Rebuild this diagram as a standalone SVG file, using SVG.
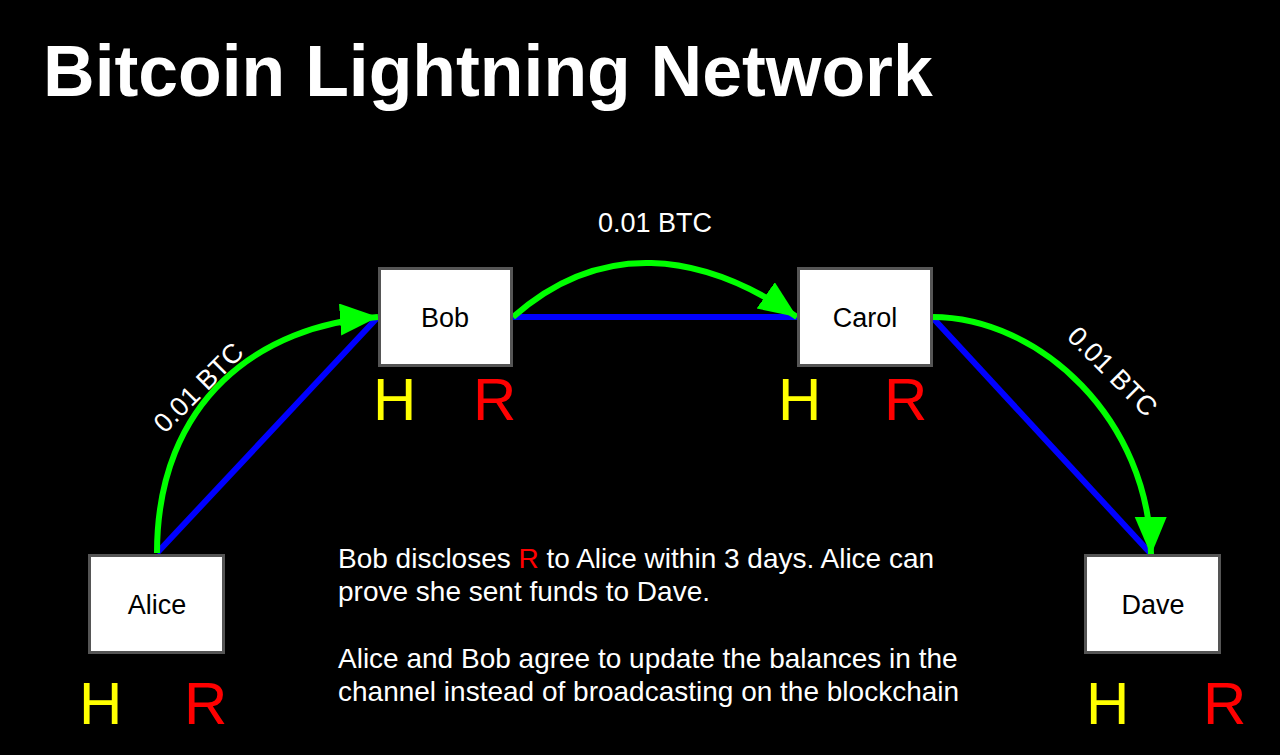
<svg xmlns="http://www.w3.org/2000/svg" width="1280" height="755" viewBox="0 0 1280 755">
<style>
.box{fill:#ffffff;stroke:#555555;stroke-width:3}
.lbl{font-family:"Liberation Sans",Arial,sans-serif;font-size:27px;fill:#000000;text-anchor:middle}
.h{font-family:"Liberation Sans",Arial,sans-serif;font-size:60px;fill:#ffff00}
.r{font-family:"Liberation Sans",Arial,sans-serif;font-size:60px;fill:#ff0000}
.chan{fill:none;stroke:#0000ff;stroke-width:6}
.pay{fill:none;stroke:#00ff00;stroke-width:6}
.amt{font-family:"Liberation Sans",Arial,sans-serif;font-size:27px;fill:#ffffff;text-anchor:middle}
.body{font-family:"Liberation Sans",Arial,sans-serif;font-size:28px;fill:#ffffff}
</style>
<defs>
<marker id="ah" markerUnits="userSpaceOnUse" markerWidth="42" markerHeight="34" refX="38" refY="16" orient="auto">
<path d="M0,0 L38,16 L0,32 Z" fill="#00ff00"/>
</marker>
</defs>
<rect width="1280" height="755" fill="#000000"/>
<text x="43" y="96" font-family="Liberation Sans,Arial,sans-serif" font-size="71.5" font-weight="bold" fill="#ffffff">Bitcoin Lightning Network</text>
<g id="connectors">
<line class="chan" x1="157" y1="553" x2="378" y2="317"/>
<line class="chan" x1="513" y1="317" x2="797" y2="317"/>
<line class="chan" x1="932" y1="317" x2="1152" y2="555"/>
<path class="pay" d="M157,553 C157,400 260,325 378,317" marker-end="url(#ah)"/>
<path class="pay" d="M513,317 C600,240 700,250 797,317" marker-end="url(#ah)"/>
<path class="pay" d="M932,317 C1040,317 1150,420 1151,555" marker-end="url(#ah)"/>
<text class="amt" x="655" y="232">0.01 BTC</text>
<text class="amt" transform="translate(205,394) rotate(-45)">0.01 BTC</text>
<text class="amt" transform="translate(1106,378) rotate(45)">0.01 BTC</text>
</g>
<g id="alice">
<rect class="box" x="89.5" y="555.5" width="134" height="97"/>
<text class="lbl" x="157" y="614">Alice</text>
<text class="h" x="79" y="724">H</text>
<text class="r" x="184" y="724">R</text>
</g>
<g id="bob">
<rect class="box" x="379.5" y="268.5" width="132" height="97"/>
<text class="lbl" x="445" y="327">Bob</text>
<text class="h" x="373" y="420">H</text>
<text class="r" x="473" y="420">R</text>
</g>
<g id="carol">
<rect class="box" x="798.5" y="268.5" width="133" height="97"/>
<text class="lbl" x="865" y="327">Carol</text>
<text class="h" x="778" y="420">H</text>
<text class="r" x="884" y="420">R</text>
</g>
<g id="dave">
<rect class="box" x="1085.5" y="555.5" width="134" height="97"/>
<text class="lbl" x="1153" y="614">Dave</text>
<text class="h" x="1086" y="724">H</text>
<text class="r" x="1203" y="724">R</text>
</g>
<g id="note">
<text class="body" x="338" y="568">Bob discloses <tspan fill="#ff0000">R</tspan> to Alice within 3 days. Alice can</text>
<text class="body" x="338" y="601">prove she sent funds to Dave.</text>
<text class="body" x="338" y="668">Alice and Bob agree to update the balances in the</text>
<text class="body" x="338" y="701">channel instead of broadcasting on the blockchain</text>
</g>
</svg>
